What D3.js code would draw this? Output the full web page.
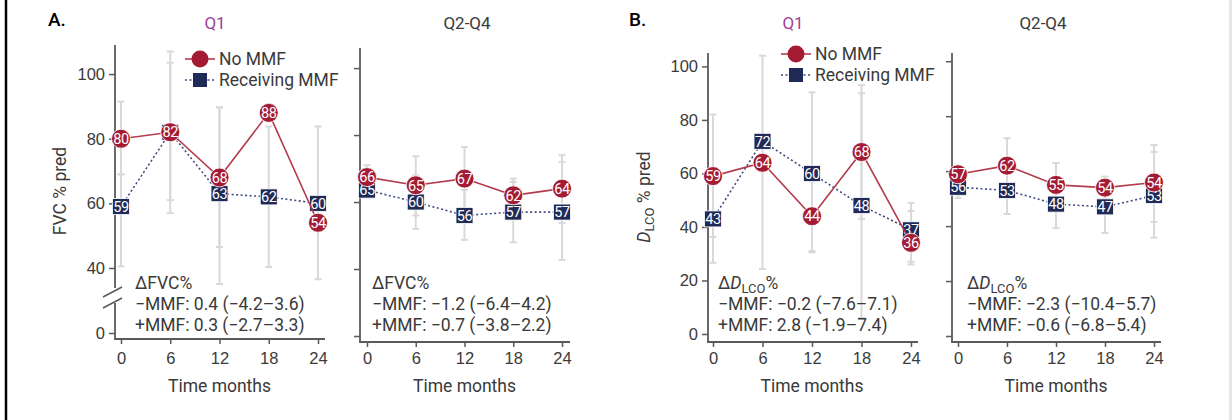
<!DOCTYPE html>
<html>
<head>
<meta charset="utf-8">
<script src="https://cdn.jsdelivr.net/npm/d3@7.9.0/dist/d3.min.js"></script>
<style>
  html, body { margin: 0; padding: 0; background: #fff; }
  svg { display: block; font-family: Roboto, 'Noto Sans', sans-serif; }
  .tick text { fill: #3a3a3a; font-size: 16.5px; }
  .tick line { stroke: #5a5a5a; stroke-width: 1.5; }
</style>
</head>
<body>
<div id="chart"></div>
<script>
const months = [0, 6, 12, 18, 24];
const fvcTicks = [0, 40, 60, 80, 100];
const dlcoTicks = [0, 20, 40, 60, 80, 100];

// FVC % pred, Q1
const fvcQ1NoMmf = [80, 82, 68, 88, 54];
const fvcQ1Mmf = [59, 82, 63, 62, 60];
const fvcQ1NoMmfLo = [69, 61, 46.5, null, null];
const fvcQ1NoMmfHi = [91.5, 103.5, 89.7, null, null];
const fvcQ1MmfLo = [40.5, 57, 35, 40.3, 36.5];
const fvcQ1MmfHi = [69, 107, 89.7, 83.8, 83.8];

// FVC % pred, Q2-Q4
const fvcQ24NoMmf = [66, 65, 67, 62, 64];
const fvcQ24Mmf = [65, 60, 56, 57, 57];
const fvcQ24NoMmfLo = [61.5, 56, 57.6, 57, 53.7];
const fvcQ24NoMmfHi = [71, 73.7, 76.4, 67, 74];
const fvcQ24MmfLo = [62.5, 52, 48.7, 48, 42.7];
const fvcQ24MmfHi = [68.5, 68, 63.6, 66, 72];

// DLCO % pred, Q1
const dlcoQ1NoMmf = [59, 64, 44, 68, 36];
const dlcoQ1Mmf = [43, 72, 60, 48, 37];
const dlcoQ1NoMmfLo = [36.3, 24.3, 31, 43, 26];
const dlcoQ1NoMmfHi = [82, 104, 57, 93, 46];
const dlcoQ1MmfLo = [26.6, null, 30.5, 6, 27];
const dlcoQ1MmfHi = [59.4, null, 90.3, 90, 49];

// DLCO % pred, Q2-Q4
const dlcoQ24NoMmf = [57, 62, 55, 54, 54];
const dlcoQ24Mmf = [56, 53, 48, 47, 53];
const dlcoQ24NoMmfLo = [52, 52, 47, 50, 41.5];
const dlcoQ24NoMmfHi = [62, 72, 63, 58, 67];
const dlcoQ24MmfLo = [50.2, 44.4, 39.3, 37.5, 35.8];
const dlcoQ24MmfHi = [60, 61.6, 56.7, 56.5, 69.5];

const fvcQ1Delta = ['\u2212MMF: 0.4 (\u22124.2\u20133.6)', '+MMF: 0.3 (\u22122.7\u20133.3)'];
const fvcQ24Delta = ['\u2212MMF: \u22121.2 (\u22126.4\u20134.2)', '+MMF: \u22120.7 (\u22123.8\u20132.2)'];
const dlcoQ1Delta = ['\u2212MMF: \u22120.2 (\u22127.6\u20137.1)', '+MMF: 2.8 (\u22121.9\u20137.4)'];
const dlcoQ24Delta = ['\u2212MMF: \u22122.3 (\u221210.4\u20135.7)', '+MMF: \u22120.6 (\u22126.8\u20135.4)'];

const RED = '#a31c34';
const RED_LINE = '#b43b4d';
const NAVY = '#1f2a57';
const NAVY_LINE = '#3f4b7e';
const ERR = '#d9d9d9';
const AXIS = '#5a5a5a';
const TEXT = '#3a3a3a';
const FS = 17.5;

const W = 1232, H = 420;
const svg = d3.select('#chart').append('svg').attr('width', W).attr('height', H);
svg.append('rect').attr('width', W).attr('height', H).attr('fill', '#fff');
svg.append('line').attr('x1', 6).attr('x2', 6).attr('y1', 0).attr('y2', H)
  .attr('stroke', '#000').attr('stroke-width', 2.5);
svg.append('rect').attr('x', 1229).attr('width', 3).attr('height', H).attr('fill', '#e6e6e6');

const panels = [
  {
    y: d3.scaleLinear().domain([0, 33.5, 109]).range([333, 289, 45]),
    yMax: 109, xRange: [121, 318], axisX: 115, axisY: 339, xEnd: 325,
    ticks: fvcTicks, labels: true, brk: true,
    title: 'Q1', titleColor: '#9d3f9d', titleX: 215,
    legend: [200, 59], measure: 'fvc', deltaX: 135, delta: fvcQ1Delta,
    noMmf: fvcQ1NoMmf, mmf: fvcQ1Mmf,
    noLo: fvcQ1NoMmfLo, noHi: fvcQ1NoMmfHi, mLo: fvcQ1MmfLo, mHi: fvcQ1MmfHi,
  },
  {
    y: d3.scaleLinear().domain([0, 40, 106]).range([336, 269, 48]),
    yMax: 106, xRange: [367, 562], axisX: 360, axisY: 342, xEnd: 570,
    ticks: fvcTicks, labels: false, brk: false,
    title: 'Q2-Q4', titleColor: '#3a3a3a', titleX: 467,
    legend: null, measure: 'fvc', deltaX: 372, delta: fvcQ24Delta,
    noMmf: fvcQ24NoMmf, mmf: fvcQ24Mmf,
    noLo: fvcQ24NoMmfLo, noHi: fvcQ24NoMmfHi, mLo: fvcQ24MmfLo, mHi: fvcQ24MmfHi,
  },
  {
    y: d3.scaleLinear().domain([0, 105]).range([334, 53]),
    yMax: 105, xRange: [713, 911], axisX: 708, axisY: 342, xEnd: 918,
    ticks: dlcoTicks, labels: true, brk: false,
    title: 'Q1', titleColor: '#9d3f9d', titleX: 793,
    legend: [796, 54], measure: 'dlco', deltaX: 718, delta: dlcoQ1Delta,
    noMmf: dlcoQ1NoMmf, mmf: dlcoQ1Mmf,
    noLo: dlcoQ1NoMmfLo, noHi: dlcoQ1NoMmfHi, mLo: dlcoQ1MmfLo, mHi: dlcoQ1MmfHi,
  },
  {
    y: d3.scaleLinear().domain([0, 103]).range([336, 53]),
    yMax: 103, xRange: [958, 1154], axisX: 952, axisY: 342, xEnd: 1161,
    ticks: dlcoTicks, labels: false, brk: false,
    title: 'Q2-Q4', titleColor: '#3a3a3a', titleX: 1043,
    legend: null, measure: 'dlco', deltaX: 967, delta: dlcoQ24Delta,
    noMmf: dlcoQ24NoMmf, mmf: dlcoQ24Mmf,
    noLo: dlcoQ24NoMmfLo, noHi: dlcoQ24NoMmfHi, mLo: dlcoQ24MmfLo, mHi: dlcoQ24MmfHi,
  },
];

function drawSquare(sel, cx, cy) {
  sel.append('rect').attr('x', cx - 8.5).attr('y', cy - 8).attr('width', 17).attr('height', 16)
    .attr('fill', NAVY).attr('stroke', '#fff').attr('stroke-width', 0.8);
}

function drawPanel(p) {
  const g = svg.append('g');
  const x = d3.scaleLinear().domain([0, 24]).range(p.xRange);
  const y = p.y;

  // axes
  const yAxis = g.append('g').attr('transform', `translate(${p.axisX},0)`)
    .call(d3.axisLeft(y).tickValues(p.ticks).tickSize(6).tickPadding(4)
      .tickFormat(p.labels ? d3.format('d') : ''));
  yAxis.select('.domain').remove();
  const xAxis = g.append('g').attr('transform', `translate(0,${p.axisY})`)
    .call(d3.axisBottom(x).tickValues(months).tickSize(5).tickPadding(352 - p.axisY - 5));
  xAxis.select('.domain').remove();
  g.selectAll('.tick text').attr('fill', TEXT);

  const axisLine = (y1, y2) => g.append('line')
    .attr('x1', p.axisX).attr('x2', p.axisX).attr('y1', y1).attr('y2', y2)
    .attr('stroke', AXIS).attr('stroke-width', 1.8);
  if (p.brk) {
    const b = y(33.5);
    axisLine(y(p.yMax), b - 1);
    axisLine(b + 14, p.axisY);
    [b + 3, b + 14].forEach(c => {
      g.append('line').attr('x1', p.axisX - 12).attr('x2', p.axisX + 7)
        .attr('y1', c + 5).attr('y2', c - 5).attr('stroke', AXIS).attr('stroke-width', 1.5);
    });
  } else {
    axisLine(y(p.yMax), p.axisY);
  }
  g.append('line').attr('x1', p.axisX - 0.9).attr('x2', p.xEnd)
    .attr('y1', p.axisY).attr('y2', p.axisY).attr('stroke', AXIS).attr('stroke-width', 1.8);

  // error bars
  const bars = [];
  months.forEach((m, i) => {
    if (p.mLo[i] != null) bars.push([m, p.mLo[i], p.mHi[i]]);
    if (p.noLo[i] != null) bars.push([m, p.noLo[i], p.noHi[i]]);
  });
  const eb = g.append('g').attr('stroke', ERR).attr('stroke-width', 2);
  bars.forEach(([m, lo, hi]) => {
    const cx = x(m);
    eb.append('line').attr('x1', cx).attr('x2', cx).attr('y1', y(lo)).attr('y2', y(hi));
    [lo, hi].forEach(v => eb.append('line').attr('x1', cx - 3.5).attr('x2', cx + 3.5)
      .attr('y1', y(v)).attr('y2', y(v)));
  });

  // marker positions, nudged apart where two different values overlap
  const pts = months.map((m, i) => {
    let yn = y(p.noMmf[i]), ym = y(p.mmf[i]);
    if (p.noMmf[i] !== p.mmf[i] && Math.abs(yn - ym) < 13) {
      const mid = (yn + ym) / 2, s = p.noMmf[i] > p.mmf[i] ? -1 : 1;
      yn = mid + s * 6.5; ym = mid - s * 6.5;
    }
    return { x: x(m), yn, ym, n: p.noMmf[i], mv: p.mmf[i] };
  });

  g.append('path').attr('fill', 'none').attr('stroke', NAVY_LINE).attr('stroke-width', 1.6)
    .attr('stroke-dasharray', '2,2.5')
    .attr('d', d3.line().x(d => d.x).y(d => d.ym)(pts));
  pts.forEach(d => {
    drawSquare(g, d.x, d.ym);
    g.append('text').attr('x', d.x).attr('y', d.ym).attr('dy', '0.36em')
      .attr('text-anchor', 'middle').attr('fill', '#fff').attr('font-size', 14.5)
      .attr('letter-spacing', -0.5).text(d.mv);
  });

  g.append('path').attr('fill', 'none').attr('stroke', RED_LINE).attr('stroke-width', 1.6)
    .attr('d', d3.line().x(d => d.x).y(d => d.yn)(pts));
  pts.forEach(d => {
    g.append('circle').attr('cx', d.x).attr('cy', d.yn).attr('r', 9.5)
      .attr('fill', RED).attr('stroke', '#fff').attr('stroke-width', 0.8);
    g.append('text').attr('x', d.x).attr('y', d.yn).attr('dy', '0.36em')
      .attr('text-anchor', 'middle').attr('fill', '#fff').attr('font-size', 14.5)
      .attr('letter-spacing', -0.5).text(d.n);
  });

  // title
  g.append('text').attr('x', p.titleX).attr('y', 29).attr('text-anchor', 'middle')
    .attr('fill', p.titleColor).attr('font-size', 17).text(p.title);

  // x label
  g.append('text').attr('x', (p.xRange[0] + p.xRange[1]) / 2).attr('y', 392)
    .attr('text-anchor', 'middle').attr('fill', TEXT).attr('font-size', FS).text('Time months');

  // delta annotation
  const head = g.append('text').attr('x', p.deltaX).attr('y', 289)
    .attr('fill', TEXT).attr('font-size', FS);
  if (p.measure === 'fvc') {
    head.text('\u0394FVC%');
  } else {
    head.append('tspan').text('\u0394');
    head.append('tspan').attr('font-style', 'italic').text('D');
    head.append('tspan').attr('font-size', 13).attr('dy', 4).text('LCO');
    head.append('tspan').attr('dy', -4).text('%');
  }
  p.delta.forEach((t, i) => g.append('text').attr('x', p.deltaX).attr('y', 310 + i * 21)
    .attr('fill', TEXT).attr('font-size', FS).text(t));

  // legend
  if (p.legend) {
    const [lx, ly] = p.legend;
    const lg = g.append('g');
    lg.append('line').attr('x1', lx - 15).attr('x2', lx + 15).attr('y1', ly).attr('y2', ly)
      .attr('stroke', RED_LINE).attr('stroke-width', 1.6);
    lg.append('circle').attr('cx', lx).attr('cy', ly).attr('r', 8.5).attr('fill', RED);
    lg.append('text').attr('x', lx + 19).attr('y', ly).attr('dy', '0.36em')
      .attr('fill', TEXT).attr('font-size', FS).text('No MMF');
    const ly2 = ly + 21;
    lg.append('line').attr('x1', lx - 15).attr('x2', lx + 15).attr('y1', ly2).attr('y2', ly2)
      .attr('stroke', NAVY_LINE).attr('stroke-width', 1.6).attr('stroke-dasharray', '2,2.5');
    lg.append('rect').attr('x', lx - 7).attr('y', ly2 - 7).attr('width', 14).attr('height', 14)
      .attr('fill', NAVY);
    lg.append('text').attr('x', lx + 19).attr('y', ly2).attr('dy', '0.36em')
      .attr('fill', TEXT).attr('font-size', FS).text('Receiving MMF');
  }
}

panels.forEach(drawPanel);

// panel letters
svg.append('text').attr('x', 48).attr('y', 26).attr('font-size', 19).attr('font-weight', 500)
  .attr('fill', '#000').text('A.');
svg.append('text').attr('x', 629).attr('y', 26).attr('font-size', 19).attr('font-weight', 500)
  .attr('fill', '#000').text('B.');

// y labels
svg.append('text').attr('transform', 'translate(66,191) rotate(-90)').attr('text-anchor', 'middle')
  .attr('fill', TEXT).attr('font-size', FS).text('FVC % pred');
const dl = svg.append('text').attr('transform', 'translate(650,197) rotate(-90)')
  .attr('text-anchor', 'middle').attr('fill', TEXT).attr('font-size', FS);
dl.append('tspan').attr('font-style', 'italic').text('D');
dl.append('tspan').attr('font-size', 13).attr('dy', 4).text('LCO');
dl.append('tspan').attr('dy', -4).text(' % pred');
</script>
</body>
</html>
